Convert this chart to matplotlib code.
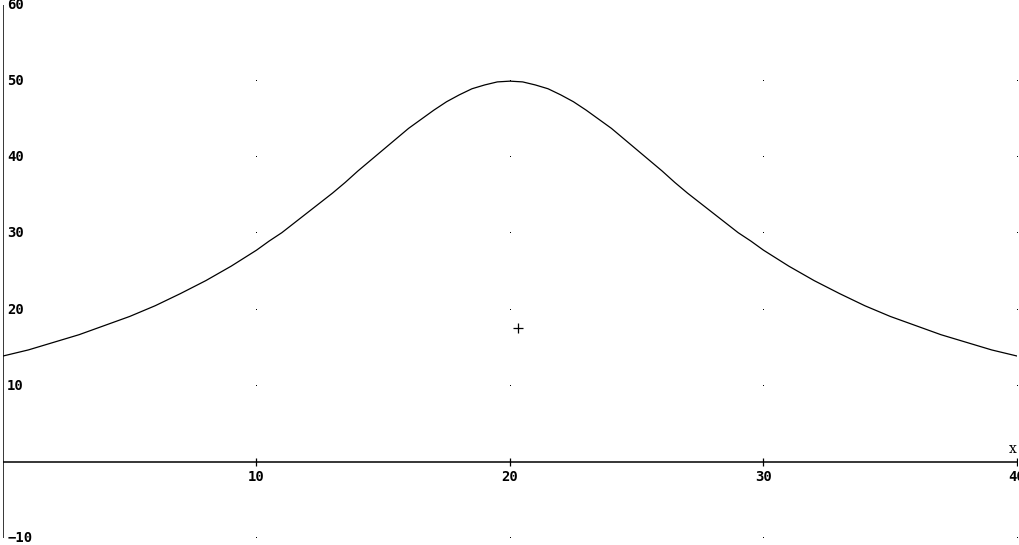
import matplotlib
matplotlib.use("Agg")
import matplotlib.pyplot as plt
import numpy as np

# curve (denser around the peak)
x_vals = [0, 1, 2, 3, 4, 5, 6, 7, 8, 9, 10,
          10.5, 11, 11.5, 12, 12.5, 13, 13.5, 14, 14.5, 15,
          15.5, 16, 16.5, 17, 17.5, 18, 18.5, 19, 19.5, 20,
          20.5, 21, 21.5, 22, 22.5, 23, 23.5, 24, 24.5, 25,
          25.5, 26, 26.5, 27, 27.5, 28, 28.5, 29, 29.5, 30,
          31, 32, 33, 34, 35, 36, 37, 38, 39, 40]
y_vals = [13.9, 14.7, 15.7, 16.7, 17.9, 19.1, 20.5, 22.1, 23.8, 25.7, 27.8,
          29.0, 30.1, 31.4, 32.7, 34.0, 35.3, 36.7, 38.2, 39.6, 41.0,
          42.4, 43.8, 45.0, 46.2, 47.3, 48.2, 49.0, 49.5, 49.9, 50.0,
          49.9, 49.5, 49.0, 48.2, 47.3, 46.2, 45.0, 43.8, 42.4, 41.0,
          39.6, 38.2, 36.7, 35.3, 34.0, 32.7, 31.4, 30.1, 29.0, 27.8,
          25.7, 23.8, 22.1, 20.5, 19.1, 17.9, 16.7, 15.7, 14.7, 13.9]

plus_point = (20.3, 17.6)
x_ticks = [10, 20, 30, 40]
y_ticks = [-10, 10, 20, 30, 40, 50, 60]
grid_y = [-10, 0, 10, 20, 30, 40, 50, 60]

fig = plt.figure(figsize=(10.2, 5.45), dpi=100)
ax = fig.add_axes([3 / 1020, 7 / 545, 1014 / 1020, 533 / 545])
ax.set_xlim(0, 40)
ax.set_ylim(-10, 60)

for s in ax.spines.values():
    s.set_visible(False)
ax.set_xticks([])
ax.set_yticks([])

# axes through the origin
ax.axhline(0, color="black", lw=1.1)
ax.axvline(0, color="black", lw=1.1)

# dotted grid at tick crossings, one pixel each
gx, gy = np.meshgrid(x_ticks, grid_y)
ax.plot(gx.ravel(), gy.ravel(), ls="none", marker=",", color="black")

# tick marks on the x axis
ax.plot(x_ticks, [0] * len(x_ticks), ls="none", marker="|", ms=6, mew=0.9, color="black")

ax.plot(x_vals, y_vals, color="black", lw=0.9)
ax.plot(*plus_point, marker="+", ms=7, mew=0.9, color="black", ls="none")

font = dict(family="DejaVu Sans Mono", weight="bold", size=10, color="black")
for t in x_ticks:
    ax.annotate(str(t), (t, 0), xytext=(0, -6), textcoords="offset points",
                ha="center", va="top", annotation_clip=False, **font)
for t in y_ticks:
    ax.annotate(str(t).replace("-", "\u2212"), (0, t), xytext=(3, 0), textcoords="offset points",
                ha="left", va="center", annotation_clip=False, **font)

ax.annotate("x", (40, 0), xytext=(-3, 4), textcoords="offset points",
            ha="center", va="bottom", annotation_clip=False,
            family="DejaVu Serif", size=10, color="black")

fig.savefig("out.png", dpi=100)
